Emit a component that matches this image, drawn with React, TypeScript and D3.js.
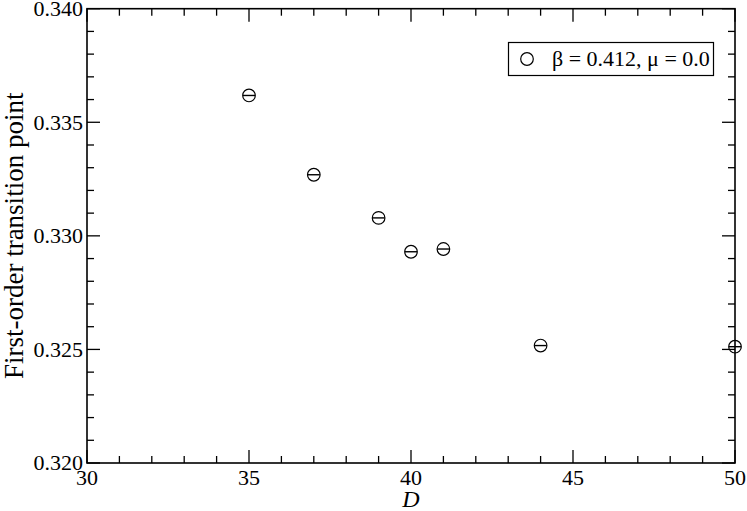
import { useEffect, useRef } from 'react';
import * as d3 from 'd3';

// D values and first-order transition points
const dValues = [35, 37, 39, 40, 41, 44, 50];
const transitionPoints = [0.33618, 0.33269, 0.33079, 0.3293, 0.32942, 0.32517, 0.32512];
const xTicks = [30, 35, 40, 45, 50];
const yTicks = [0.32, 0.325, 0.33, 0.335, 0.34];
const legendLabel = 'β = 0.412, μ = 0.0';

const W = 747;
const H = 511;
const FONT = '"Liberation Serif", "DejaVu Serif", serif';

export default function App() {
  const svgRef = useRef<SVGSVGElement>(null);

  useEffect(() => {
    if (!svgRef.current) return;
    const svg = d3.select(svgRef.current);
    svg.selectAll('*').remove();

    const left = 87, right = 735, top = 8.7, bottom = 463;
    const x = d3.scaleLinear().domain([30, 50]).range([left, right]);
    const y = d3.scaleLinear().domain([0.32, 0.34]).range([bottom, top]);

    const g = svg.append('g');

    // minor + major ticks on all four sides
    const xMinor = d3.range(30, 50.01, 1);
    const yMinor = d3.range(0.32, 0.34001, 0.001);
    const isMajorX = (v: number) => Math.abs(v % 5) < 1e-6;
    const isMajorY = (v: number) => Math.abs(Math.round(v * 1000) % 5) === 0;

    xMinor.forEach((v) => {
      const len = isMajorX(v) ? 13 : 7;
      g.append('line').attr('x1', x(v)).attr('x2', x(v)).attr('y1', bottom).attr('y2', bottom - len)
        .attr('stroke', '#000').attr('stroke-width', 1.3);
      g.append('line').attr('x1', x(v)).attr('x2', x(v)).attr('y1', top).attr('y2', top + len)
        .attr('stroke', '#000').attr('stroke-width', 1.3);
    });
    yMinor.forEach((v) => {
      const len = isMajorY(v) ? 13 : 7;
      g.append('line').attr('x1', left).attr('x2', left + len).attr('y1', y(v)).attr('y2', y(v))
        .attr('stroke', '#000').attr('stroke-width', 1.3);
      g.append('line').attr('x1', right).attr('x2', right - len).attr('y1', y(v)).attr('y2', y(v))
        .attr('stroke', '#000').attr('stroke-width', 1.3);
    });

    g.append('rect').attr('x', left).attr('y', top).attr('width', right - left).attr('height', bottom - top)
      .attr('fill', 'none').attr('stroke', '#000').attr('stroke-width', 1.6);

    // tick labels
    g.selectAll('.xl').data(xTicks).join('text')
      .attr('x', (d) => x(d)).attr('y', 485)
      .attr('text-anchor', 'middle').attr('font-family', FONT).attr('font-size', 22)
      .text((d) => String(d));
    g.selectAll('.yl').data(yTicks).join('text')
      .attr('x', 83).attr('y', (d) => y(d)).attr('dy', '0.33em')
      .attr('text-anchor', 'end').attr('font-family', FONT).attr('font-size', 22)
      .text((d) => d3.format('.3f')(d));

    // axis titles
    g.append('text').attr('x', x(40)).attr('y', 507).attr('text-anchor', 'middle')
      .attr('font-family', FONT).attr('font-size', 24).attr('font-style', 'italic').text('D');
    g.append('text').attr('transform', `translate(23,${(top + bottom) / 2}) rotate(-90)`)
      .attr('text-anchor', 'middle').attr('font-family', FONT).attr('font-size', 27)
      .text('First-order transition point');

    // data markers: circle with small error-bar cap line
    const pts = dValues.map((d, i) => ({ d, v: transitionPoints[i] }));
    const mk = g.selectAll('.pt').data(pts).join('g')
      .attr('transform', (p) => `translate(${x(p.d)},${y(p.v)})`);
    mk.append('circle').attr('r', 6.3).attr('fill', 'none').attr('stroke', '#000').attr('stroke-width', 1.2);
    mk.append('line').attr('x1', -6).attr('x2', 6).attr('y1', 0).attr('y2', 0)
      .attr('stroke', '#000').attr('stroke-width', 1.4);

    // legend
    g.append('rect').attr('x', 508.5).attr('y', 42.5).attr('width', 205).attr('height', 33)
      .attr('fill', '#fff').attr('stroke', '#000').attr('stroke-width', 1.2);
    g.append('circle').attr('cx', 527).attr('cy', 59).attr('r', 6.3)
      .attr('fill', 'none').attr('stroke', '#000').attr('stroke-width', 1.2);
    g.append('text').attr('x', 552).attr('y', 66).attr('font-family', FONT).attr('font-size', 22)
      .text(legendLabel);
  }, []);

  return (
    <div style={{ position: 'absolute', left: 0, top: 0 }}>
      <svg ref={svgRef} width={W} height={H} style={{ display: 'block', background: '#fff' }} />
    </div>
  );
}
